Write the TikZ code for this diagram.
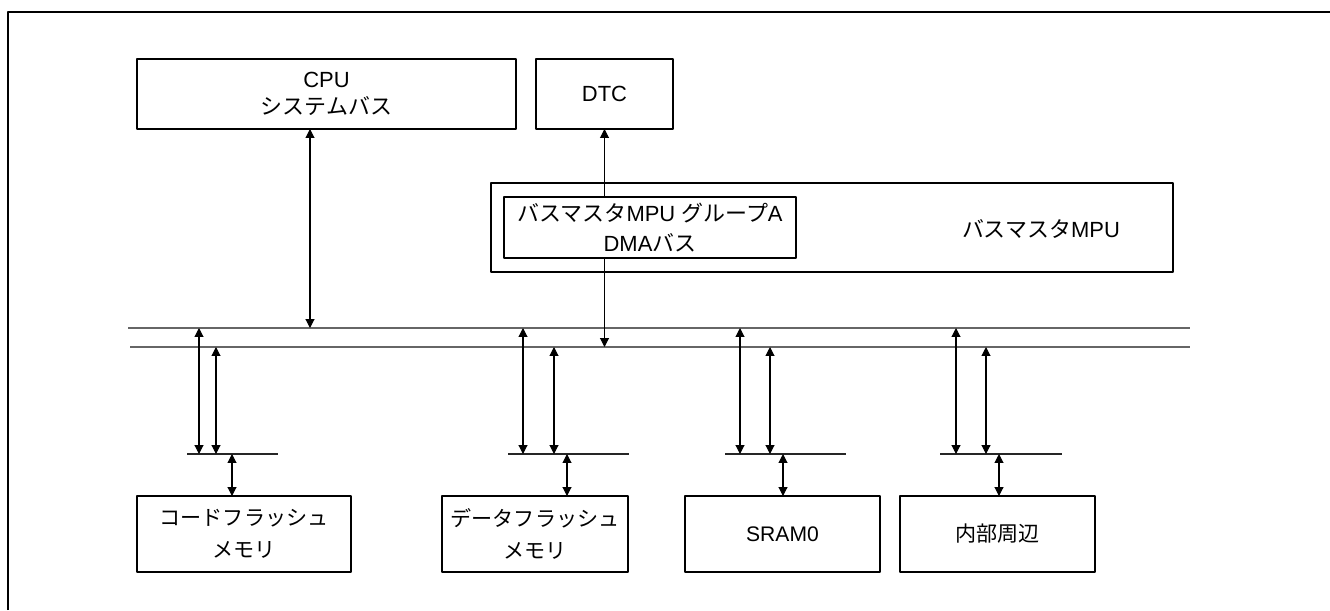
\documentclass[tikz,border=0pt]{standalone}
\usepackage{fontspec}
\setmainfont{Liberation Sans}
\newfontfamily\jp{Noto Sans CJK JP}
\usetikzlibrary{arrows.meta}

\begin{document}
\begin{tikzpicture}[x=0.02cm, y=-0.02cm, line join=round,
    font=\fontsize{12.5}{15}\selectfont,
    box/.style 2 args={draw, line width=0.6pt, inner sep=0pt, outer sep=0pt, align=center,
        minimum width=#1*0.02cm, minimum height=#2*0.02cm},
    slave/.style={font=\fontsize{12}{15}\selectfont},
    bus/.style={line width=0.8pt, black!60},
    tap/.style={line width=0.7pt, black!85},
    dbl/.style={line width=0.6pt, {Triangle[length=5pt,width=5pt]}-{Triangle[length=5pt,width=5pt]}},
    sgl/.style={line width=0.6pt, -{Triangle[length=5pt,width=5pt]}}]
    \useasboundingbox (0,0) rectangle (1330,610);

    % Outer frame (runs off the right and bottom edges)
    \draw[line width=0.9pt] (8,610) -- (8,12) -- (1330,12);

    % Bus masters
    \node[box={379}{70}] (cpu)  at (326.5,94)  {CPU\\{\jp システムバス}};
    \node[box={137}{70}] (dtc)  at (604.5,94)  {DTC};
    \node[box={682}{89}] (mpu)  at (832,227.5) {};
    \node[box={292}{61}] (grpA) at (650,227.5) {{\jp バスマスタ}MPU {\jp グループ}A\\[2pt]DMA{\jp バス}};
    \node (mpulbl) at (1041,229) {{\jp バスマスタ}MPU};

    % Main bus (two lines)
    \coordinate (busA)  at (128,328);
    \coordinate (busAe) at (1190,328);
    \coordinate (busB)  at (130,347);
    \coordinate (busBe) at (1190,347);
    \draw[bus] (busA) -- (busAe);
    \draw[bus] (busB) -- (busBe);

    % Master connections
    \coordinate (cpux) at (310,0);
    \draw[dbl] (cpu.south -| cpux) -- (busA -| cpux);
    \draw[sgl] (grpA.north -| dtc.south) -- (dtc.south);
    \draw[sgl] (grpA.south -| dtc.south) -- (busB -| dtc.south);

    % Slaves
    \node[box={214}{76}, slave] (code)  at (244,534)   {{\jp コードフラッシュ}\\[3pt]{\jp メモリ}};
    \node[box={186}{76}, slave] (data)  at (535,534)   {{\jp データフラッシュ}\\[3pt]{\jp メモリ}};
    \node[box={195}{76}, slave] (sram)  at (782.5,534) {SRAM0};
    \node[box={195}{76}, slave] (perip) at (997.5,534) {{\jp 内部周辺}};

    % Slave-side taps
    \foreach \s/\xa/\xb/\xl/\xr/\xd in {code/199/216/187/278/232, data/523/554/508/629/567,
            sram/740/770/725/846/783, perip/956/986/940/1062/999} {
        \coordinate (\s bus)  at (\xl,454);
        \coordinate (\s busE) at (\xr,454);
        \draw[tap] (\s bus) -- (\s busE);
        \draw[dbl] (busA -| \xa,0) -- (\s bus -| \xa,0);
        \draw[dbl] (busB -| \xb,0) -- (\s bus -| \xb,0);
        \draw[dbl] (\s bus -| \xd,0) -- (\s.north -| \xd,0);
    }
\end{tikzpicture}
\end{document}
